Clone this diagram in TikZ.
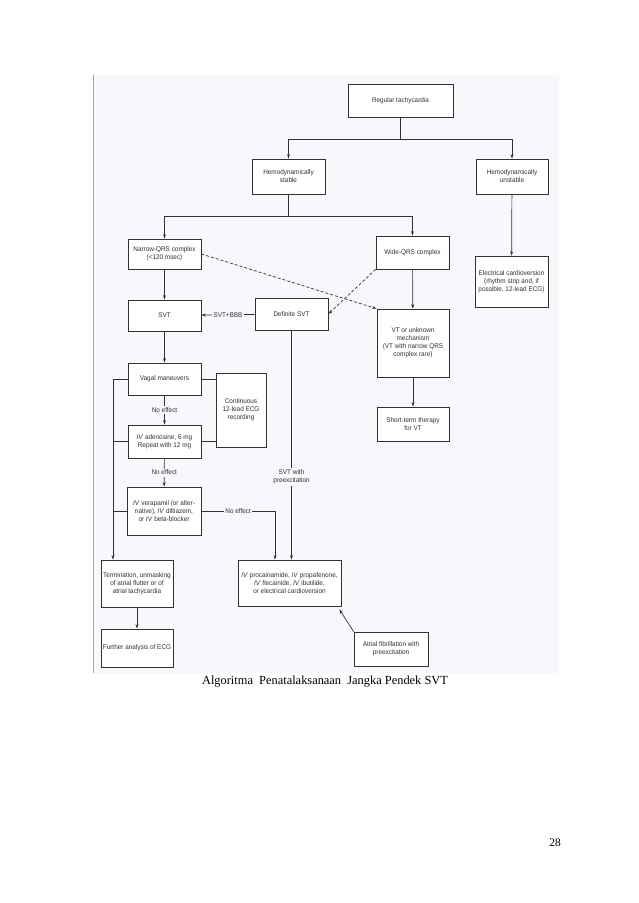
\documentclass[tikz,border=0pt]{standalone}
\usepackage{fontspec}
\setmainfont{Liberation Serif}
\newfontfamily\chartfont[FakeStretch=0.94]{Liberation Sans}
\definecolor{figbg}{RGB}{248, 248, 252}
\definecolor{linegrey}{RGB}{50, 50, 50}
\definecolor{textgrey}{RGB}{50, 50, 50}
\definecolor{edgegrey}{RGB}{170, 170, 170}
\usepackage{tikz}
\usetikzlibrary{arrows.meta, positioning, calc}

\begin{document}
\begin{tikzpicture}[x=1pt, y=-1pt,
  box/.style={draw=linegrey, fill=white, line width=0.7pt, align=center, inner sep=1pt, text=textgrey, font=\chartfont\fontsize{6.8}{8}\selectfont},
  lbl/.style={fill=figbg, inner sep=1.5pt, align=center, text=textgrey, font=\chartfont\fontsize{6.8}{8}\selectfont},
  link/.style={draw=linegrey, line width=0.7pt},
  arr/.style={link, -{Stealth[length=4.5pt, width=3pt]}}]
  \useasboundingbox (0,0) rectangle (638,903);

  % figure panel
  \fill[figbg] (93,75) rectangle (559,673);
  \draw[edgegrey, line width=0.8pt] (93,75) -- (93,673);

  % top of the tree
  \node[box, minimum width=105, minimum height=33] (reg) at (400.5,100.5) {Regular tachycardia};
  \node[box, minimum width=73, minimum height=35] (stable) at (288.5,176.5) {Hemodynamically\\stable};
  \node[box, minimum width=72, minimum height=35] (unstable) at (512,176.5) {Hemodynamically\\unstable};

  % stable branch
  \node[box, minimum width=73, minimum height=30] (narrow) at (164.5,254) {Narrow-QRS complex\\(<120 msec)};
  \node[box, minimum width=73, minimum height=33] (wide) at (412.5,252.5) {Wide-QRS complex};
  \node[box, minimum width=73, minimum height=31] (svt) at (164.5,315.5) {SVT};
  \node[box, minimum width=73, minimum height=32] (defsvt) at (291.5,314) {Definite SVT};
  \node[box, minimum width=72, minimum height=68] (vt) at (413,343) {VT or unknown\\mechanism\\(VT with narrow QRS\\complex rare)};
  \node[box, minimum width=72, minimum height=34] (shortvt) at (413,424) {Short-term therapy\\for VT};

  % unstable branch
  \node[box, minimum width=73, minimum height=51] (elec) at (511.5,281.5) {Electrical cardioversion\\(rhythm strip and, if\\possible, 12-lead ECG)};

  % SVT steps
  \node[box, minimum width=73, minimum height=32] (vagal) at (164.5,379) {Vagal maneuvers};
  \node[box, minimum width=50, minimum height=74] (ecg) at (241,410) {Continuous\\12-lead ECG\\recording};
  \node[box, minimum width=73, minimum height=33] (adeno) at (164.5,441.5) {\textit{IV} adenosine, 6 mg\\Repeat with 12 mg};
  \node[box, minimum width=74, minimum height=48] (verap) at (164,511) {\textit{IV} verapamil (or alter-\\native), \textit{IV} diltiazem,\\or \textit{IV} beta-blocker};
  \node[box, minimum width=72, minimum height=47] (term) at (137,583.5) {Termination, unmasking\\of atrial flutter or of\\atrial tachycardia};
  \node[box, minimum width=72, minimum height=38] (further) at (137,648) {Further analysis of ECG};
  \node[box, minimum width=103, minimum height=46] (proc) at (289.5,583) {\textit{IV} procainamide, \textit{IV} propafenone,\\\textit{IV} flecainide, \textit{IV} ibutilide,\\or electrical cardioversion};
  \node[box, minimum width=74, minimum height=34] (af) at (391,649) {Atrial fibrillation with\\preexcitation};

  % splits
  \coordinate (topsplit) at (400.5,139);
  \coordinate (midsplit) at (288.5,216);
  \coordinate (loop) at (113,379);
  \coordinate (bypass) at (275,511);

  \draw[link] (reg) -- (topsplit);
  \draw[arr] (topsplit) -| (stable);
  \draw[arr] (topsplit) -| (unstable);
  \draw[link] (stable) -- (midsplit);
  \draw[arr] (midsplit) -| (narrow);
  \draw[arr] (midsplit) -| (wide);
  \draw[arr] (unstable) -- (elec);
  \draw[arr] (narrow) -- (svt);
  \draw[arr] (wide) -- (vt);
  \draw[arr] (vt) -- (shortvt);
  \draw[arr, dash pattern=on 3pt off 2pt] (narrow.east) -- (vt.north west);
  \draw[arr, dash pattern=on 3pt off 2pt] (wide.south west) -- (defsvt.east);
  \draw[arr] (defsvt) -- node[lbl] {SVT+BBB} (svt);

  % SVT ladder
  \draw[arr] (svt) -- (vagal);
  \draw[arr] (vagal) -- node[lbl] {No effect} (adeno);
  \draw[arr] (adeno) -- node[lbl] {No effect} (verap);
  \draw[link] (vagal.east) -- (vagal.east -| ecg.west);
  \draw[link] (adeno.east) -- (adeno.east -| ecg.west);
  \draw[link] (vagal.west) -- (loop);
  \draw[link] (adeno.west) -- (adeno.west -| loop);
  \draw[link] (verap.west) -- (verap.west -| loop);
  \draw[arr] (loop) -- (loop |- term.north);
  \draw[arr] (term) -- (further);
  \draw[arr] (verap.east) -- node[lbl] {No effect} (bypass) -- (bypass |- proc.north);
  \draw[arr] (defsvt.south) -- node[lbl, pos=0.64] {SVT with\\preexcitation} (defsvt.south |- proc.north);
  \draw[arr] (af.north west) -- ($(proc.south east)+(-2,3)$);

  % caption and page number
  \node[font=\fontsize{12.4}{14}\selectfont] (caption) at (325,682) {Algoritma\ \ Penatalaksanaan\ \ Jangka Pendek SVT};
  \node[font=\fontsize{11.5}{13}\selectfont] (pagenum) at (555,843) {28};
\end{tikzpicture}
\end{document}
